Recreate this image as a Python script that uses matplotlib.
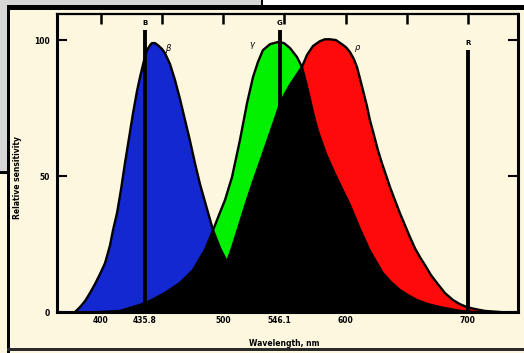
import numpy as np
import matplotlib
matplotlib.use("Agg")
import matplotlib.pyplot as plt
from matplotlib.patches import Rectangle

# cone sensitivity curves (wavelength in nm, relative sensitivity)
beta_nm = [378.7, 382.8, 386.9, 391.0, 395.1, 399.2, 403.3, 407.4, 409.8, 413.1,
           416.4, 419.6, 422.9, 426.2, 429.4, 431.9, 435.2, 437.6, 440.1, 441.7,
           444.1, 446.6, 449.9, 452.3, 456.4, 460.5, 464.6, 468.7, 472.8, 476.8,
           480.9, 485.8, 491.6, 497.3, 503.0, 509.5, 517.7, 525.9, 534.1, 546.3, 558.6]
beta_val = [0, 1.8, 4.0, 7.0, 10.3, 14.0, 18.0, 24.6, 30.1, 36.4,
            45.2, 54.8, 64.0, 73.2, 81.2, 86.4, 92.6, 96.3, 98.1, 98.9,
            98.9, 98.1, 96.7, 95.2, 91.2, 85.3, 78.3, 70.6, 62.9, 54.8,
            47.1, 39.3, 30.1, 23.5, 18.4, 13.2, 8.1, 4.4, 2.2, 0.4, 0]

gamma_nm = [399.2, 415.5, 431.9, 441.7, 452.3, 464.6, 475.2, 485.0, 491.6, 496.5,
            501.4, 507.1, 513.6, 519.4, 524.3, 528.3, 532.4, 538.2, 544.7, 549.6,
            554.5, 560.2, 564.3, 567.6, 570.9, 574.1, 577.4, 583.9, 590.5, 597.0,
            603.6, 611.7, 619.9, 630.5, 637.1, 644.4, 651.0, 658.3, 667.3, 677.1,
            685.3, 693.5, 705.7]
gamma_val = [0, 0.4, 2.6, 4.4, 7.0, 10.7, 15.4, 22.8, 30.1, 35.7,
             41.2, 49.6, 63.2, 76.8, 86.4, 91.9, 96.3, 98.5, 99.3, 98.9,
             97.1, 93.8, 90.1, 84.5, 78.2, 72.0, 66.5, 58.2, 51.5, 45.4,
             39.3, 30.5, 22.4, 14.3, 11.0, 8.1, 6.2, 4.4, 2.9, 1.8,
             1.1, 0.4, 0]

rho_nm = [415.5, 440.1, 464.6, 480.9, 491.6, 497.3, 503.0, 507.1, 511.2, 515.3,
          519.4, 524.3, 530.0, 535.7, 541.4, 546.3, 550.4, 554.5, 559.4, 564.3,
          568.4, 573.3, 579.0, 583.1, 587.2, 592.1, 597.0, 600.3, 603.6, 606.8,
          609.3, 611.7, 614.2, 617.5, 619.9, 623.2, 626.4, 629.7, 633.0, 636.3,
          640.3, 644.4, 648.5, 652.6, 656.7, 660.8, 664.9, 669.8, 674.7, 681.2,
          687.8, 693.5, 699.2, 705.7, 713.9, 726.2]
rho_val = [0, 0.7, 2.6, 5.5, 9.9, 13.6, 18.4, 23.5, 29.4, 35.3,
           41.2, 47.8, 55.1, 62.5, 69.9, 76.5, 80.2, 83.5, 86.8, 90.1,
           94.5, 97.8, 99.6, 100.3, 100.3, 100.0, 98.5, 97.4, 95.6, 93.0,
           90.1, 86.0, 81.6, 75.7, 70.6, 65.1, 59.6, 54.8, 50.4, 46.0,
           41.2, 36.4, 32.0, 27.6, 23.5, 20.2, 17.3, 13.6, 10.7, 7.0,
           4.4, 2.9, 1.8, 1.1, 0.4, 0]

# CIE primaries drawn as vertical lines
prim_nm = [435.8, 546.1, 700.0]
prim_top = [103.7, 103.7, 96.3]
prim_name = ["B", "G", "R"]

xtick_pos = [400, 435.8, 500, 546.1, 600, 700]
xtick_lab = ["400", "435.8", "500", "546.1", "600", "700"]
top_ticks = [400, 450, 500, 550, 600, 650, 700]

cream = "#fdf7df"
W, H = 524, 353


def px_rect(fig, x0, y0, x1, y1, color, z=0):
    # rectangle given in pixel coords measured from top-left
    fig.add_artist(Rectangle((x0 / W, 1 - y1 / H), (x1 - x0) / W, (y1 - y0) / H,
                             transform=fig.transFigure, color=color, lw=0, zorder=z))


fig = plt.figure(figsize=(5.24, 3.53), dpi=100)
fig.patch.set_facecolor(cream)

# scan surroundings
px_rect(fig, 0, 0, 262, 5, "#d6d6d6")
px_rect(fig, 0, 0, 7, 172, "#d6d6d6")
px_rect(fig, 263, 0, 524, 5, "white")
px_rect(fig, 261, 0, 263, 5, "black")
px_rect(fig, 0, 171, 8, 174, "black")
px_rect(fig, 7, 5, 524, 10, "black")
px_rect(fig, 7, 5, 10, 353, "black")
px_rect(fig, 7, 348, 524, 351, "#2a2a2a")

ax = fig.add_axes([57 / W, 1 - 312 / H, (518 - 57) / W, (312 - 14) / H])
ax.set_facecolor(cream)

curves = [(beta_nm, beta_val, "#1428d2"),
          (gamma_nm, gamma_val, "#00f000"),
          (rho_nm, rho_val, "#ff0a0a")]

fills = []
for xs, ys, col in curves:
    fills.append(ax.fill(xs, ys, color=col, lw=0, zorder=1)[0])

# where two curves overlap the area is black
for a, b in [(0, 1), (0, 2), (1, 2)]:
    blk = ax.fill(curves[a][0], curves[a][1], color="black", lw=0, zorder=2)[0]
    blk.set_clip_path(fills[b])

for xs, ys, col in curves:
    ax.plot(xs, ys, color="black", lw=1.7, zorder=3, solid_joinstyle="round")

ax.vlines(prim_nm, 0, prim_top, color="black", lw=2.8, zorder=4)
for x, top, name in zip(prim_nm, prim_top, prim_name):
    ax.text(x, top + 1.5, name, ha="center", va="bottom", fontsize=5,
            weight="bold", zorder=5)

ax.text(454.8, 97, "\u03b2", fontsize=6, style="italic", ha="center", va="center")
ax.text(523.4, 98.2, "\u03b3", fontsize=6, style="italic", ha="center", va="center")
ax.text(610.1, 97.4, "\u03c1", fontsize=6, style="italic", ha="center", va="center")

ax.set_xlim(364, 741)
ax.set_ylim(0, 109.6)

ax.set_xticks(xtick_pos)
ax.set_xticklabels(xtick_lab)
ax.tick_params(axis="x", length=0, pad=3, labelsize=5.5)
for t in ax.get_xticklabels():
    t.set_fontweight("bold")

ax.set_yticks([0, 50, 100])
ax.set_yticklabels(["0", "50", "100"])
ax.tick_params(axis="y", direction="in", length=7, width=1.5, pad=5,
               labelsize=5.5, right=True)
for t in ax.get_yticklabels():
    t.set_fontweight("bold")

top = ax.secondary_xaxis("top")
top.set_xticks(top_ticks)
top.tick_params(direction="in", length=7, width=1.8, labeltop=False)
top.spines["top"].set_visible(False)

for side, lw in [("left", 2.2), ("bottom", 2.2), ("top", 1.6), ("right", 2.2)]:
    ax.spines[side].set_linewidth(lw)

ax.set_xlabel("Wavelength, nm", fontsize=5.5, weight="bold")
ax.xaxis.set_label_coords(0.492, -0.09)
ax.set_ylabel("Relative sensitivity", fontsize=5.5, weight="bold")
ax.yaxis.set_label_coords(-0.076, 0.453)

fig.savefig("out.png", dpi=100, facecolor=fig.get_facecolor())
